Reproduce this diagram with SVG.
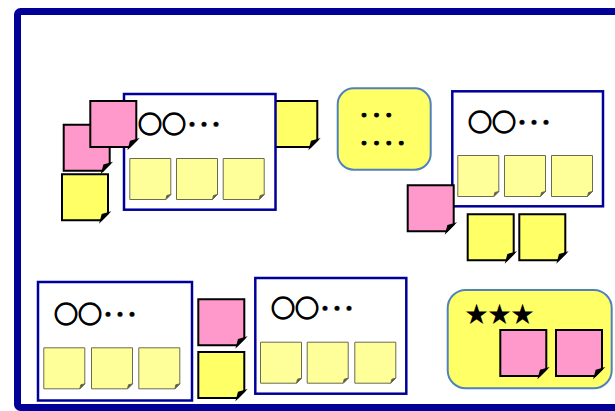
<svg xmlns="http://www.w3.org/2000/svg" xmlns:xlink="http://www.w3.org/1999/xlink" width="615" height="411" viewBox="0 0 615 411">
<style>
.frame{fill:#fff;stroke:#000099;stroke-width:7}
.box{fill:#fff;stroke:#000099;stroke-width:2.5}
.rbox{fill:#FFFF66;stroke:#4F81BD;stroke-width:2}
.pink{fill:#FF99CC;stroke:#000;stroke-width:2;stroke-linejoin:miter}
.yel{fill:#FFFF66;stroke:#000;stroke-width:2;stroke-linejoin:miter}
.pale{fill:#FFFF99;stroke:#6b6b50;stroke-width:1}
.fold{fill:#000}
.pale .fold{fill:#55553a}
.t{font-family:"Noto Sans CJK JP","Noto Sans CJK SC",sans-serif;font-size:24px;font-weight:bold;fill:#000;stroke:#000;stroke-width:1.3}
.t .dt{stroke-width:0.4}
.d{font-family:"Noto Sans CJK JP","Noto Sans CJK SC",sans-serif;font-size:20px;font-weight:bold;letter-spacing:2.4px;fill:#000;stroke:#000;stroke-width:1}
.s{font-family:"Noto Sans CJK JP","Noto Sans CJK SC",sans-serif;font-size:23px;fill:#000}
</style>
<defs>
<path id="bb" d="M0,0 H46 V39 L39,46 H0 Z"/>
<path id="bf" d="M39,46 L46,39 L40.5,40.5 Z"/>
<path id="pb" d="M0,0 H41 V36 L36,41 H0 Z"/>
<path id="pf" d="M36,41 L41,36 L37,37 Z"/>
</defs>
<rect id="frame" class="frame" x="17.5" y="11.5" width="620" height="396" rx="3"/>

<g id="yellow-r1" class="yel" transform="translate(271.3,101)"><use xlink:href="#bb"/><use class="fold" xlink:href="#bf"/></g>

<g id="box1">
<rect class="box" x="124" y="94" width="151.5" height="115.7"/>
<text class="t" x="138" y="133">○○<tspan class="dt">･･･</tspan></text>
<g class="pale" transform="translate(129.8,158.5)"><use xlink:href="#pb"/><use class="fold" xlink:href="#pf"/></g>
<g class="pale" transform="translate(176.5,158.5)"><use xlink:href="#pb"/><use class="fold" xlink:href="#pf"/></g>
<g class="pale" transform="translate(223.2,158.5)"><use xlink:href="#pb"/><use class="fold" xlink:href="#pf"/></g>
</g>
<g id="pink-l1" class="pink" transform="translate(63.7,124.7)"><use xlink:href="#bb"/><use class="fold" xlink:href="#bf"/></g>
<g id="pink-l2" class="pink" transform="translate(90.3,101)"><use xlink:href="#bb"/><use class="fold" xlink:href="#bf"/></g>
<g id="yellow-l" class="yel" transform="translate(62,174.3)"><use xlink:href="#bb"/><use class="fold" xlink:href="#bf"/></g>

<g id="note-box">
<rect class="rbox" x="337.7" y="88.3" width="93" height="81.4" rx="16"/>
<text class="d" x="359" y="123.3">･･･</text>
<text class="d" x="359" y="150.9">････</text>
</g>

<g id="box2">
<rect class="box" x="452.3" y="91.3" width="150.7" height="115"/>
<text class="t" x="468" y="130.5">○○<tspan class="dt">･･･</tspan></text>
<g class="pale" transform="translate(457.8,155.5)"><use xlink:href="#pb"/><use class="fold" xlink:href="#pf"/></g>
<g class="pale" transform="translate(504.5,155.5)"><use xlink:href="#pb"/><use class="fold" xlink:href="#pf"/></g>
<g class="pale" transform="translate(551.5,155.5)"><use xlink:href="#pb"/><use class="fold" xlink:href="#pf"/></g>
</g>
<g id="pink-m" class="pink" transform="translate(407.7,185.3)"><use xlink:href="#bb"/><use class="fold" xlink:href="#bf"/></g>
<g id="yellow-m1" class="yel" transform="translate(467.7,214.3)"><use xlink:href="#bb"/><use class="fold" xlink:href="#bf"/></g>
<g id="yellow-m2" class="yel" transform="translate(519.3,214.3)"><use xlink:href="#bb"/><use class="fold" xlink:href="#bf"/></g>

<g id="box3">
<rect class="box" x="38" y="282" width="154" height="118.5"/>
<text class="t" x="54" y="323">○○<tspan class="dt">･･･</tspan></text>
<g class="pale" transform="translate(43.8,347.8)"><use xlink:href="#pb"/><use class="fold" xlink:href="#pf"/></g>
<g class="pale" transform="translate(91.5,347.8)"><use xlink:href="#pb"/><use class="fold" xlink:href="#pf"/></g>
<g class="pale" transform="translate(138.8,347.8)"><use xlink:href="#pb"/><use class="fold" xlink:href="#pf"/></g>
</g>
<g id="pink-b" class="pink" transform="translate(198.3,299.3)"><use xlink:href="#bb"/><use class="fold" xlink:href="#bf"/></g>
<g id="yellow-b" class="yel" transform="translate(198.3,352)"><use xlink:href="#bb"/><use class="fold" xlink:href="#bf"/></g>

<g id="box4">
<rect class="box" x="255.3" y="278" width="151" height="115.7"/>
<text class="t" x="271" y="317">○○<tspan class="dt">･･･</tspan></text>
<g class="pale" transform="translate(260.5,342.2)"><use xlink:href="#pb"/><use class="fold" xlink:href="#pf"/></g>
<g class="pale" transform="translate(307.2,342.2)"><use xlink:href="#pb"/><use class="fold" xlink:href="#pf"/></g>
<g class="pale" transform="translate(354.8,342.2)"><use xlink:href="#pb"/><use class="fold" xlink:href="#pf"/></g>
</g>

<g id="star-box">
<rect class="rbox" x="447.7" y="290" width="164" height="98.3" rx="18"/>
<text class="s" x="465" y="321.5">★★★</text>
<g class="pink" transform="translate(500.3,330)"><use xlink:href="#bb"/><use class="fold" xlink:href="#bf"/></g>
<g class="pink" transform="translate(556,330)"><use xlink:href="#bb"/><use class="fold" xlink:href="#bf"/></g>
</g>
<g id="connectors"/>
</svg>
